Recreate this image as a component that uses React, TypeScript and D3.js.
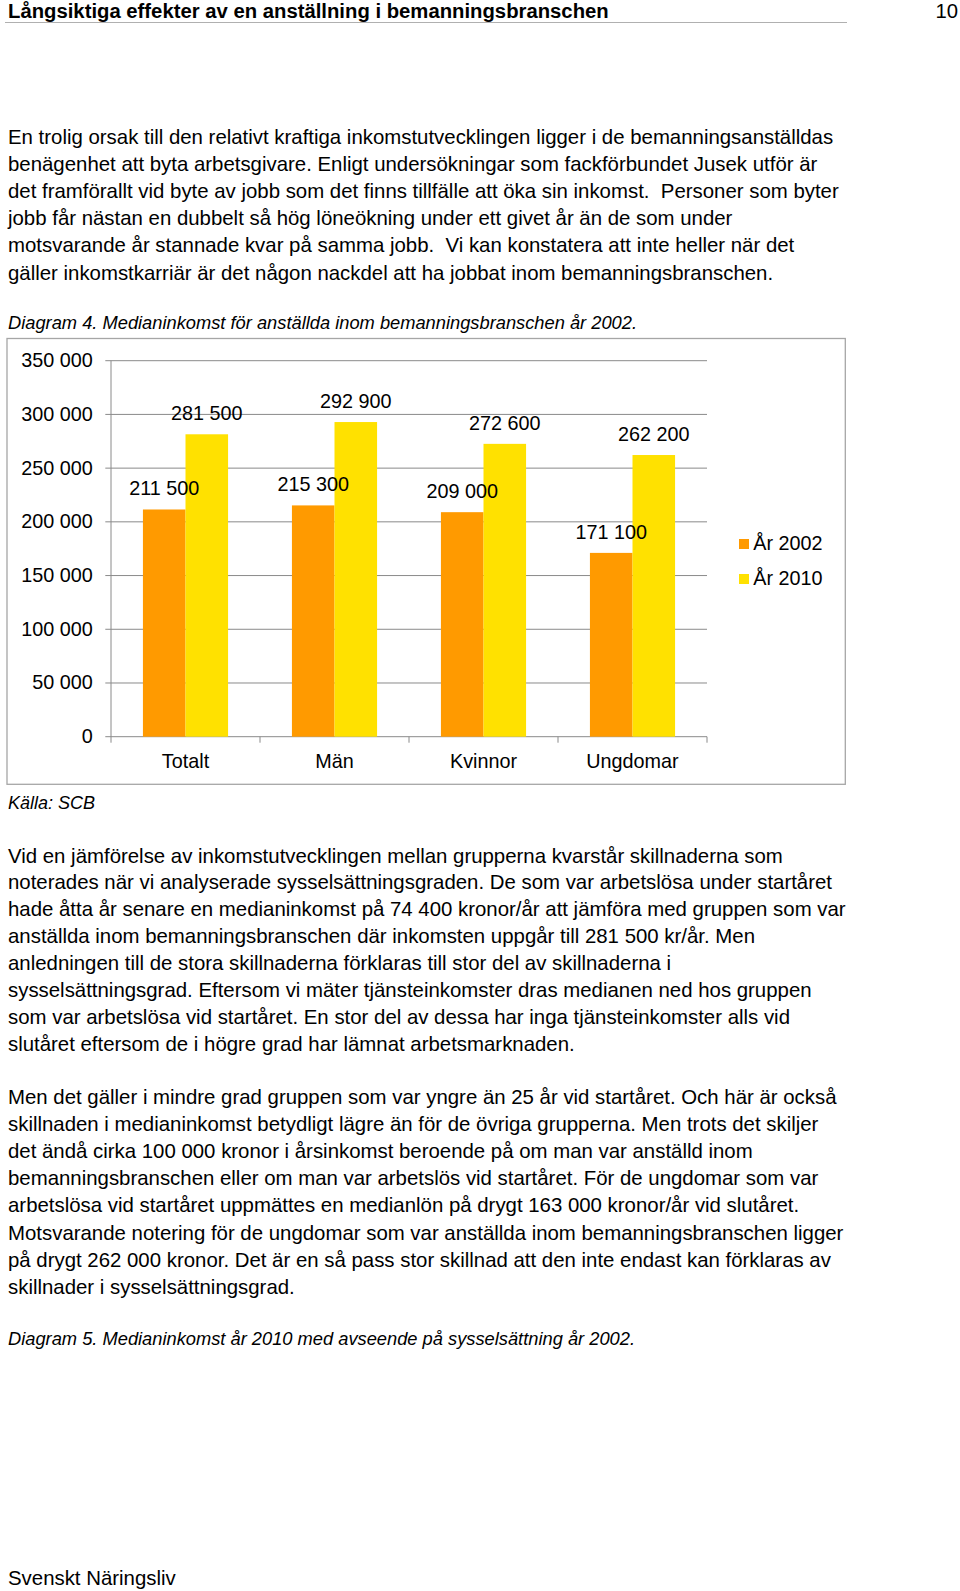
import React from "react";
import * as d3 from "d3";

const categories = ["Totalt", "Män", "Kvinnor", "Ungdomar"];
const series = ["År 2002", "År 2010"];
const values2002 = [211500, 215300, 209000, 171100];
const values2010 = [281500, 292900, 272600, 262200];
const yTicks = [0, 50000, 100000, 150000, 200000, 250000, 300000, 350000];
const colors = ["#FF9A00", "#FFE100"];

const para1 = [
  "En trolig orsak till den relativt kraftiga inkomstutvecklingen ligger i de bemanningsanställdas",
  "benägenhet att byta arbetsgivare. Enligt undersökningar som fackförbundet Jusek utför är",
  "det framförallt vid byte av jobb som det finns tillfälle att öka sin inkomst.  Personer som byter",
  "jobb får nästan en dubbelt så hög löneökning under ett givet år än de som under",
  "motsvarande år stannade kvar på samma jobb.  Vi kan konstatera att inte heller när det",
  "gäller inkomstkarriär är det någon nackdel att ha jobbat inom bemanningsbranschen.",
];
const para2 = [
  "Vid en jämförelse av inkomstutvecklingen mellan grupperna kvarstår skillnaderna som",
  "noterades när vi analyserade sysselsättningsgraden. De som var arbetslösa under startåret",
  "hade åtta år senare en medianinkomst på 74 400 kronor/år att jämföra med gruppen som var",
  "anställda inom bemanningsbranschen där inkomsten uppgår till 281 500 kr/år. Men",
  "anledningen till de stora skillnaderna förklaras till stor del av skillnaderna i",
  "sysselsättningsgrad. Eftersom vi mäter tjänsteinkomster dras medianen ned hos gruppen",
  "som var arbetslösa vid startåret. En stor del av dessa har inga tjänsteinkomster alls vid",
  "slutåret eftersom de i högre grad har lämnat arbetsmarknaden.",
];
const para3 = [
  "Men det gäller i mindre grad gruppen som var yngre än 25 år vid startåret. Och här är också",
  "skillnaden i medianinkomst betydligt lägre än för de övriga grupperna. Men trots det skiljer",
  "det ändå cirka 100 000 kronor i årsinkomst beroende på om man var anställd inom",
  "bemanningsbranschen eller om man var arbetslös vid startåret. För de ungdomar som var",
  "arbetslösa vid startåret uppmättes en medianlön på drygt 163 000 kronor/år vid slutåret.",
  "Motsvarande notering för de ungdomar som var anställda inom bemanningsbranschen ligger",
  "på drygt 262 000 kronor. Det är en så pass stor skillnad att den inte endast kan förklaras av",
  "skillnader i sysselsättningsgrad.",
];

const SANS = "'Liberation Sans', Arial, sans-serif";
const NARROW = "'Liberation Sans Narrow', 'Arial Narrow', 'Liberation Sans', sans-serif";
const fmt = (v: number) => d3.format(",")(v).replace(/,/g, " ");

export default function App() {
  const W = 960, H = 1591;
  const y = d3.scaleLinear().domain([0, 350000]).range([736.7, 360.7]);
  const x = d3.scaleBand<string>().domain(categories).range([111, 707]).padding(0);
  const bw = x.bandwidth() / 3.5;
  const sub = d3.scaleBand<string>().domain(series).range([0.75 * bw, 2.75 * bw]).padding(0);
  const data = [values2002, values2010];
  const gridColor = "#8a8a8a";
  const chartFont = { fontFamily: SANS, fontSize: 19.8 };

  const bodyStyle = { fontFamily: SANS, fontSize: 20.4, fill: "#000", whiteSpace: "pre" as const };

  return (
    <svg width={W} height={H} style={{ position: "absolute", left: 0, top: 0, background: "#fff" }}>
      {/* header */}
      <text x={8} y={18} style={{ fontFamily: NARROW, fontSize: 20.3, fontWeight: "bold" }}>
        Långsiktiga effekter av en anställning i bemanningsbranschen
      </text>
      <text x={958} y={18} textAnchor="end" style={{ fontFamily: NARROW, fontSize: 20.3 }}>10</text>
      <line x1={5} x2={847} y1={22.5} y2={22.5} stroke="#b0b0b0" strokeWidth={1.2} />

      {para1.map((t, i) => (
        <text key={"p1" + i} x={8} y={144 + i * 27.1} style={bodyStyle}>{t}</text>
      ))}

      <text x={8} y={329} style={{ fontFamily: SANS, fontSize: 18.3, fontStyle: "italic" }}>
        Diagram 4. Medianinkomst för anställda inom bemanningsbranschen år 2002.
      </text>

      {/* chart frame */}
      <rect x={7} y={338.5} width={838.3} height={445.8} fill="#fff" stroke="#a6a6a6" strokeWidth={1.3} />

      {/* gridlines and y labels */}
      {yTicks.map((t) => (
        <g key={"yt" + t}>
          <line x1={105.3} x2={707} y1={y(t)} y2={y(t)} stroke={gridColor} strokeWidth={1} />
          <text x={92.7} y={y(t) + 6.5} textAnchor="end" style={chartFont}>
            {fmt(t)}
          </text>
        </g>
      ))}
      <line x1={111} x2={111} y1={y(350000)} y2={y(0)} stroke={gridColor} strokeWidth={1} />
      {/* x ticks */}
      {[...categories.map((c) => x(c) as number), 707].map((px, i) => (
        <line key={"xt" + i} x1={px} x2={px} y1={y(0)} y2={y(0) + 6} stroke={gridColor} strokeWidth={1} />
      ))}

      {/* bars */}
      {categories.map((c, ci) => (
        <g key={"g" + c}>
          {series.map((s, si) => {
            const v = data[si][ci];
            const bx = (x(c) as number) + (sub(s) as number);
            return (
              <rect key={s} x={bx} y={y(v)} width={sub.bandwidth()} height={y(0) - y(v)} fill={colors[si]} />
            );
          })}
        </g>
      ))}
      {/* data labels */}
      {categories.map((c, ci) => (
        <g key={"l" + c}>
          {series.map((s, si) => {
            const v = data[si][ci];
            const cx = (x(c) as number) + (sub(s) as number) + sub.bandwidth() / 2;
            return (
              <text key={s} x={cx} y={y(v) - 14} textAnchor="middle" style={chartFont}>
                {fmt(v)}
              </text>
            );
          })}
        </g>
      ))}
      {/* category labels */}
      {categories.map((c) => (
        <text key={"c" + c} x={(x(c) as number) + x.bandwidth() / 2} y={768} textAnchor="middle" style={chartFont}>
          {c}
        </text>
      ))}

      {/* legend */}
      {series.map((s, si) => (
        <g key={"lg" + s}>
          <rect x={739} y={539 + si * 35} width={10} height={10} fill={colors[si]} />
          <text x={753.3} y={550 + si * 35} style={chartFont}>{s}</text>
        </g>
      ))}

      <text x={8} y={808.5} style={{ fontFamily: NARROW, fontSize: 18, fontStyle: "italic" }}>Källa: SCB</text>

      {para2.map((t, i) => (
        <text key={"p2" + i} x={8} y={862.6 + i * 26.85} style={bodyStyle}>{t}</text>
      ))}
      {para3.map((t, i) => (
        <text key={"p3" + i} x={8} y={1104 + i * 27.1} style={bodyStyle}>{t}</text>
      ))}

      <text x={8} y={1344.5} style={{ fontFamily: SANS, fontSize: 18.3, fontStyle: "italic" }}>
        Diagram 5. Medianinkomst år 2010 med avseende på sysselsättning år 2002.
      </text>

      <text x={8} y={1585} style={{ fontFamily: SANS, fontSize: 20.4 }}>Svenskt Näringsliv</text>
    </svg>
  );
}
